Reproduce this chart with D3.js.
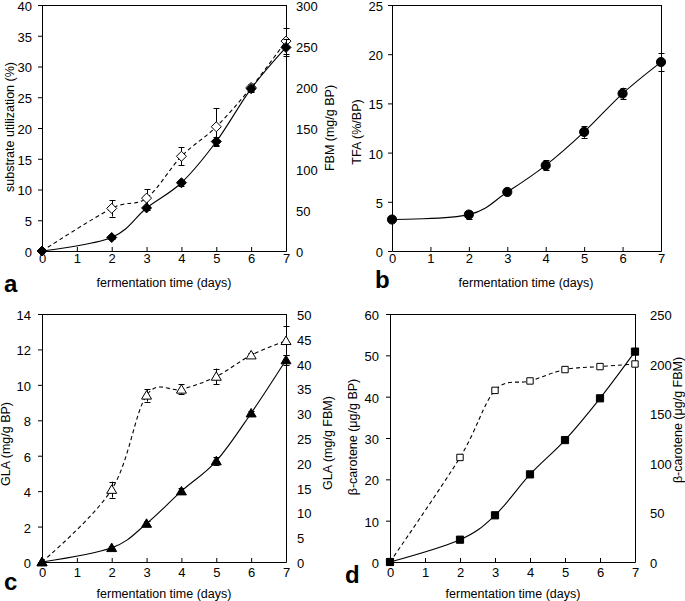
<!DOCTYPE html>
<html><head><meta charset="utf-8">
<script src="https://cdn.jsdelivr.net/npm/d3@7"></script>
<style>
body{margin:0;background:#fff}
svg{display:block;font-family:"Liberation Sans",Arial,Helvetica,sans-serif}
</style>
</head><body>
<svg id="chart" width="685" height="601"></svg>
<script>
// ---------- data ----------
const days = [0, 2, 3, 4, 5, 6, 7];
const xTicks = [0, 1, 2, 3, 4, 5, 6, 7];
const xTitle = "fermentation time (days)";

// panel a
const substrateUtil    = [0, 2.2, 7.0, 11.1, 17.8, 26.4, 33.1];
const substrateUtilErr = [0, 0.3, 0.3, 0.5, 0.8, 0.5, 1.4];
const fbm              = [0, 52, 64.5, 115.5, 151.5, 199.5, 256];
const fbmErr           = [0, 10, 11, 11, 22.5, 4, 16];
const aLeftTicks  = [0, 5, 10, 15, 20, 25, 30, 35, 40];
const aRightTicks = [0, 50, 100, 150, 200, 250, 300];

// panel b
const tfa    = [3.2, 3.7, 6.0, 8.7, 12.1, 16.0, 19.2];
const tfaErr = [0, 0.4, 0.3, 0.5, 0.6, 0.6, 0.9];
const bLeftTicks = [0, 5, 10, 15, 20, 25];

// panel c
const glaBP     = [0, 0.8, 2.17, 4.0, 5.7, 8.4, 11.4];
const glaBPErr  = [0, 0.1, 0.15, 0.15, 0.2, 0.1, 0.3];
const glaFBM    = [0, 14.6, 33.6, 34.8, 37.4, 41.7, 44.6];
const glaFBMErr = [0, 1.6, 1.25, 1.0, 1.6, 0.5, 2.9];
const cLeftTicks  = [0, 2, 4, 6, 8, 10, 12, 14];
const cRightTicks = [0, 5, 10, 15, 20, 25, 30, 35, 40, 45, 50];

// panel d
const carBP  = [0, 5.4, 11.3, 21.2, 29.5, 39.6, 50.9];
const carFBM = [0, 105.4, 173, 182.5, 194, 197, 199.6];
const dLeftTicks  = [0, 10, 20, 30, 40, 50, 60];
const dRightTicks = [0, 50, 100, 150, 200, 250];

// ---------- drawing ----------
const svg = d3.select("#chart");
const FONT_TICK = 13, FONT_TITLE = 12.5;

function shape(kind) {
  return { draw(ctx, r) {
    if (kind === "diamond") {
      ctx.moveTo(0, -r); ctx.lineTo(r, 0); ctx.lineTo(0, r); ctx.lineTo(-r, 0); ctx.closePath();
    } else if (kind === "triangle") {
      ctx.moveTo(0, -r * 0.95); ctx.lineTo(r, r * 0.75); ctx.lineTo(-r, r * 0.75); ctx.closePath();
    } else if (kind === "square") {
      ctx.rect(-r, -r, 2 * r, 2 * r);
    } else {
      ctx.moveTo(r, 0); ctx.arc(0, 0, r, 0, 2 * Math.PI);
    }
  }};
}

function panel(cfg) {
  const g = svg.append("g");
  const x = d3.scaleLinear().domain([0, 7]).range([cfg.x0, cfg.x1]);
  const yL = d3.scaleLinear().domain(d3.extent(cfg.leftTicks)).range([cfg.yB, cfg.yT]);
  const yR = cfg.rightTicks ? d3.scaleLinear().domain(d3.extent(cfg.rightTicks)).range([cfg.yB, cfg.yT]) : null;

  // frame top and right
  g.append("line").attr("x1", cfg.x0).attr("x2", cfg.x1 + 0.5)
    .attr("y1", cfg.yT + 0.5).attr("y2", cfg.yT + 0.5).attr("stroke", "#000");
  g.append("line").attr("x1", cfg.x1 + 0.5).attr("x2", cfg.x1 + 0.5)
    .attr("y1", cfg.yT).attr("y2", cfg.yB + 0.5).attr("stroke", "#000");

  // left axis
  const la = g.append("g").attr("transform", `translate(${cfg.x0},0)`)
    .call(d3.axisLeft(yL).tickValues(cfg.leftTicks).tickSizeInner(4).tickSizeOuter(0)
      .tickPadding(cfg.lPad).tickFormat(d3.format("d")));
  la.selectAll(".tick text").attr("dy", "0.42em");
  // bottom axis (inward ticks)
  const ba = g.append("g").attr("transform", `translate(0,${cfg.yB})`)
    .call(d3.axisBottom(x).tickValues(xTicks).tickSizeInner(-4).tickSizeOuter(0)
      .tickPadding(cfg.bPad).tickFormat(d3.format("d")));
  [la, ba].forEach(a => {
    a.selectAll("path.domain").attr("stroke", "#000");
    a.selectAll(".tick line").attr("stroke", "#000");
    a.selectAll("text").attr("font-size", FONT_TICK).attr("fill", "#000")
      .attr("font-family", "Liberation Sans, Arial, sans-serif");
  });
  if (yR) {
    const ra = g.append("g").attr("transform", `translate(${cfg.x1},0)`)
      .call(d3.axisRight(yR).tickValues(cfg.rightTicks).tickSizeInner(0).tickSizeOuter(0)
        .tickPadding(cfg.rPad).tickFormat(d3.format("d")));
    ra.selectAll("path.domain").remove();
    ra.selectAll(".tick text").attr("dy", "0.42em");
    ra.selectAll("text").attr("font-size", FONT_TICK).attr("fill", "#000")
      .attr("font-family", "Liberation Sans, Arial, sans-serif");
  }

  // titles
  const title = (txt, cx, cy, rot) => g.append("text")
    .attr("transform", `translate(${cx},${cy}) rotate(${rot})`)
    .attr("text-anchor", "middle").attr("dy", rot ? "0.35em" : 0)
    .attr("font-size", FONT_TITLE).attr("fill", "#000").text(txt);
  title(xTitle, cfg.xtx, cfg.xty, 0);
  title(cfg.leftTitle, cfg.ltx, cfg.lty, -90);
  if (cfg.rightTitle) title(cfg.rightTitle, cfg.rtx, cfg.rty, -90);
  g.append("text").attr("x", cfg.lx).attr("y", cfg.ly)
    .attr("font-size", 24).attr("font-weight", "bold").attr("fill", "#000").text(cfg.letter);

  // series
  cfg.series.forEach(s => {
    const y = s.axis === "R" ? yR : yL;
    const pts = days.map((d, i) => ({ d, v: s.values[i], e: s.err ? s.err[i] : 0 }));
    const line = d3.line().x(p => x(p.d)).y(p => y(p.v)).curve(d3.curveCardinal.tension(0));
    g.append("path").attr("d", line(pts)).attr("fill", "none").attr("stroke", "#000")
      .attr("stroke-width", 1.1).attr("stroke-dasharray", s.dashed ? "4,3" : null);
    const eb = g.append("g").attr("stroke", "#000").attr("stroke-width", 1);
    pts.filter(p => p.e > 0).forEach(p => {
      const cx = Math.round(x(p.d)) + 0.5;
      eb.append("line").attr("x1", cx).attr("x2", cx).attr("y1", y(p.v - p.e)).attr("y2", y(p.v + p.e));
      [p.v - p.e, p.v + p.e].forEach(v => eb.append("line")
        .attr("x1", cx - 3).attr("x2", cx + 3).attr("y1", Math.round(y(v)) + 0.5).attr("y2", Math.round(y(v)) + 0.5));
    });
    const sym = d3.symbol().type(shape(s.marker)).size(s.r);
    g.append("g").selectAll("path").data(pts).join("path")
      .attr("transform", p => `translate(${x(p.d)},${y(p.v)})`)
      .attr("d", sym).attr("fill", s.filled ? "#000" : "#fff").attr("stroke", "#000").attr("stroke-width", 1);
  });
}

panel({
  letter: "a", lx: 4, ly: 292,
  x0: 42, x1: 286, yT: 5, yB: 251, lPad: 6, bPad: 3, rPad: 10,
  leftTicks: aLeftTicks, rightTicks: aRightTicks,
  leftTitle: "substrate utilization (%)", ltx: 10, lty: 127,
  rightTitle: "FBM (mg/g BP)", rtx: 330, rty: 128,
  xtx: 164, xty: 287,
  series: [
    { values: fbm, err: fbmErr, axis: "R", dashed: true, marker: "diamond", filled: false, r: 5 },
    { values: substrateUtil, err: substrateUtilErr, axis: "L", dashed: false, marker: "diamond", filled: true, r: 5 }
  ]
});
panel({
  letter: "b", lx: 375, ly: 288,
  x0: 392, x1: 661, yT: 5, yB: 251, lPad: 5, bPad: 3,
  leftTicks: bLeftTicks, rightTicks: null,
  leftTitle: "TFA (%/BP)", ltx: 357, lty: 132,
  xtx: 526, xty: 287,
  series: [
    { values: tfa, err: tfaErr, axis: "L", dashed: false, marker: "circle", filled: true, r: 4.6 }
  ]
});
panel({
  letter: "c", lx: 4, ly: 590,
  x0: 42, x1: 286, yT: 314, yB: 562, lPad: 7, bPad: 6, rPad: 11,
  leftTicks: cLeftTicks, rightTicks: cRightTicks,
  leftTitle: "GLA (mg/g BP)", ltx: 6, lty: 444,
  rightTitle: "GLA (mg/g FBM)", rtx: 328, rty: 443,
  xtx: 164, xty: 598,
  series: [
    { values: glaFBM, err: glaFBMErr, axis: "R", dashed: true, marker: "triangle", filled: false, r: 5 },
    { values: glaBP, err: glaBPErr, axis: "L", dashed: false, marker: "triangle", filled: true, r: 5 }
  ]
});
panel({
  letter: "d", lx: 345, ly: 583,
  x0: 390, x1: 635, yT: 314, yB: 562, lPad: 7, bPad: 6, rPad: 15,
  leftTicks: dLeftTicks, rightTicks: dRightTicks,
  leftTitle: "β-carotene (μg/g BP)", ltx: 353, lty: 437,
  rightTitle: "β-carotene (μg/g FBM)", rtx: 678, rty: 420,
  xtx: 513, xty: 598,
  series: [
    { values: carFBM, axis: "R", dashed: true, marker: "square", filled: false, r: 3.2 },
    { values: carBP, axis: "L", dashed: false, marker: "square", filled: true, r: 3.6 }
  ]
});
</script>
</body></html>
